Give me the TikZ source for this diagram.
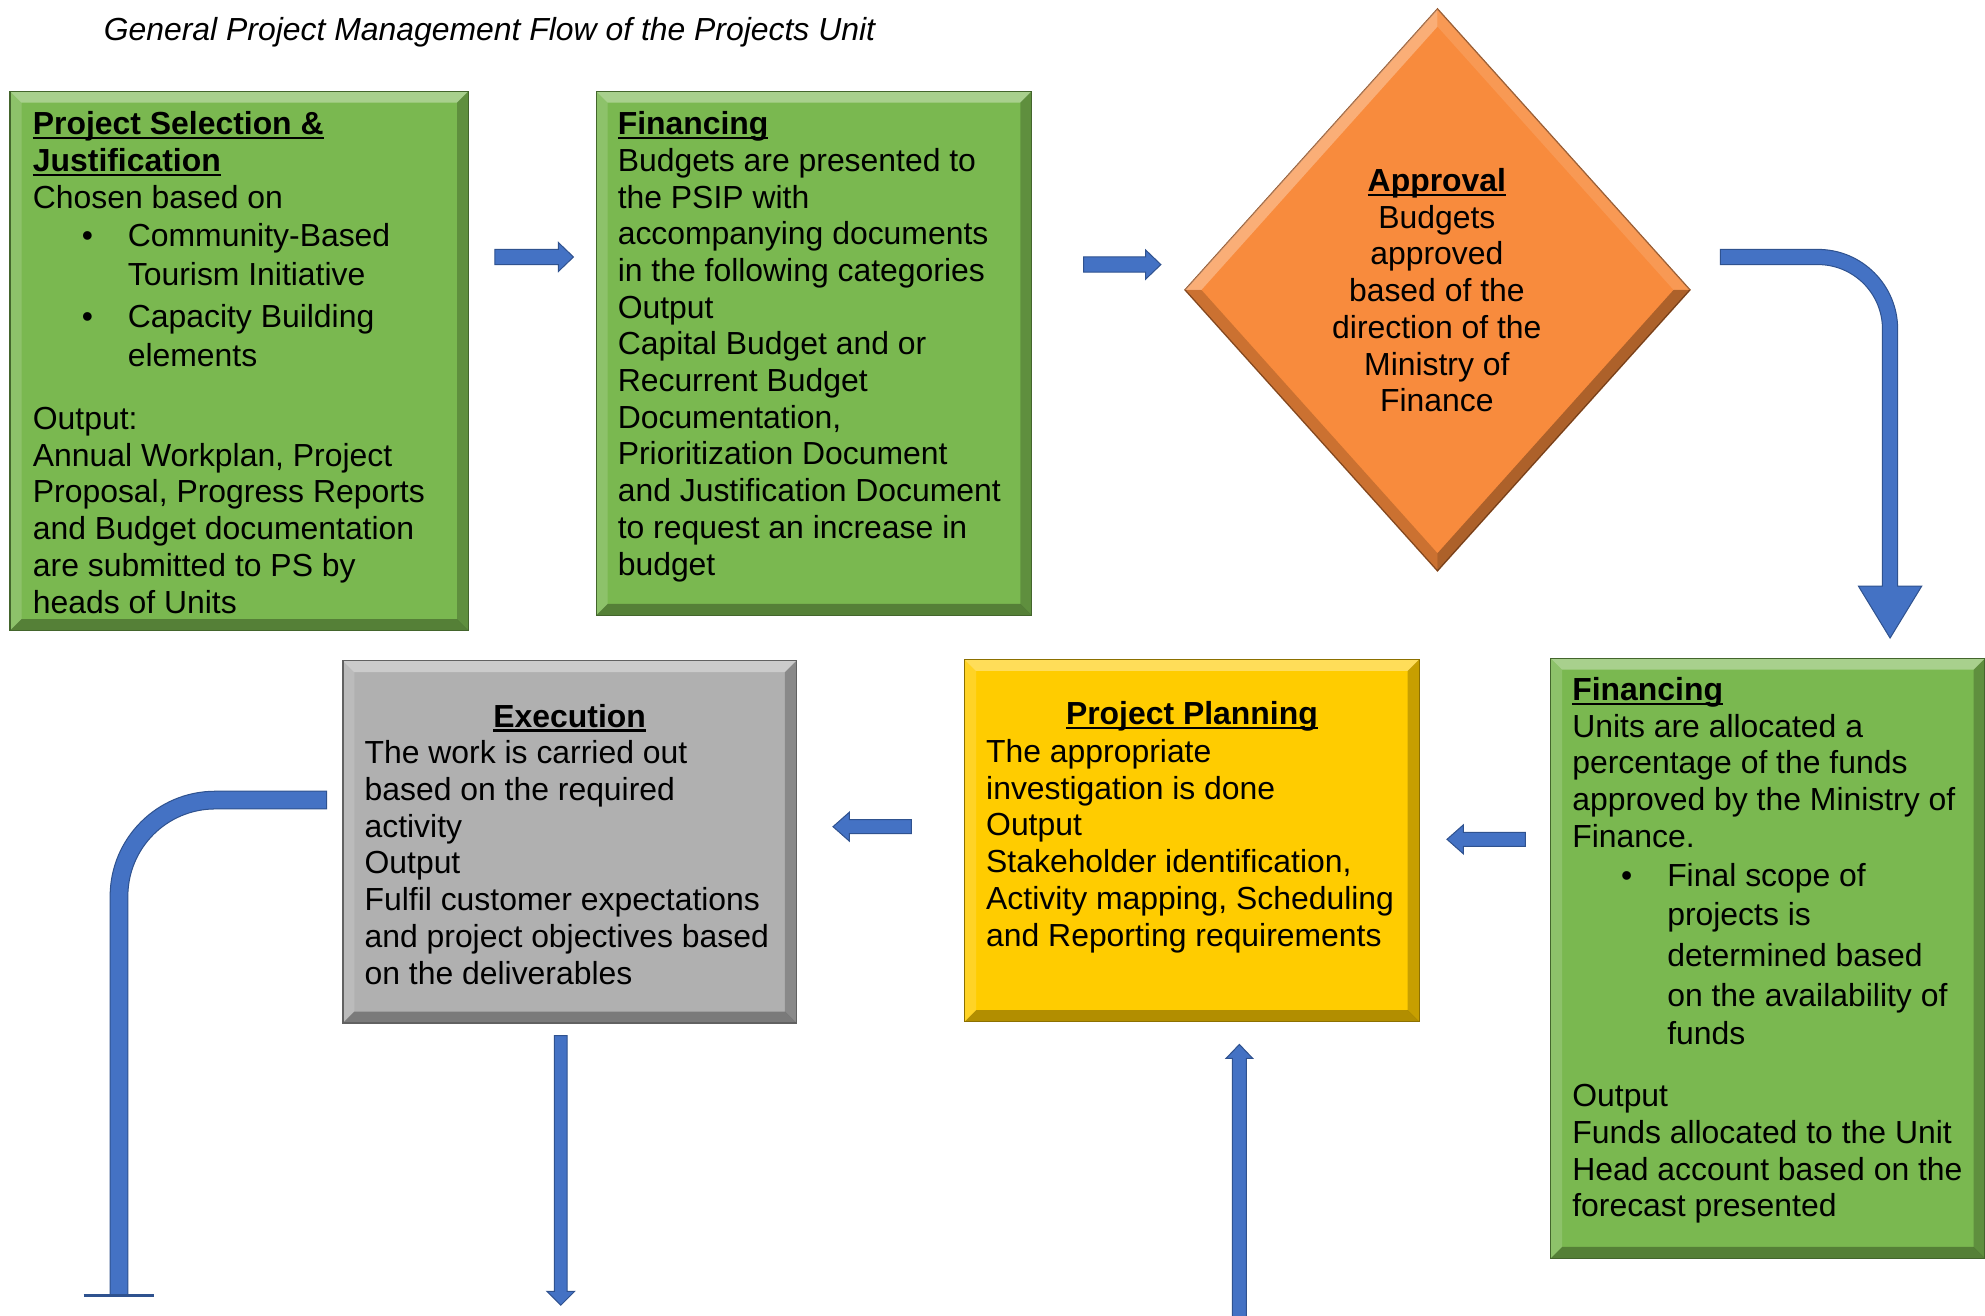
\documentclass[tikz,border=0pt]{standalone}
\usepackage{fontspec}
\setmainfont{Liberation Sans}
\usetikzlibrary{shapes.geometric}

\definecolor{boxgreen}{RGB}{122,184,80}
\definecolor{boxorange}{RGB}{248,139,61}
\definecolor{boxyellow}{RGB}{255,204,0}
\definecolor{boxgray}{RGB}{176,176,176}
\definecolor{arrowblue}{RGB}{68,114,196}
\definecolor{arrowedge}{RGB}{47,82,143}

\newcommand\bodysize{\fontsize{12.6}{14.5}\selectfont}
% bold heading with a Word-style underline
\newcommand\headl[1]{\setbox0\hbox{\bfseries #1}\rlap{\rule[-1.8pt]{\wd0}{0.9pt}}\box0}
% bullet item and its continuation indent
\newcommand\bitem{\makebox[37.5pt][l]{\hspace*{19.3pt}\textbullet}}
\newcommand\bcont{\hspace*{37.5pt}}

\tikzset{
  box/.style={rectangle, inner sep=0pt, outer sep=0pt, draw=#1!55!black, line width=0.5pt, fill=#1,
    path picture={
      \fill[white,opacity=.35] (path picture bounding box.north west) -- (path picture bounding box.north east)
        -- ([shift={(-9,-9)}]path picture bounding box.north east) -- ([shift={(9,-9)}]path picture bounding box.north west) -- cycle;
      \fill[white,opacity=.15] (path picture bounding box.north west) -- ([shift={(9,-9)}]path picture bounding box.north west)
        -- ([shift={(9,9)}]path picture bounding box.south west) -- (path picture bounding box.south west) -- cycle;
      \fill[black,opacity=.3] (path picture bounding box.south west) -- ([shift={(9,9)}]path picture bounding box.south west)
        -- ([shift={(-9,9)}]path picture bounding box.south east) -- (path picture bounding box.south east) -- cycle;
      \fill[black,opacity=.22] (path picture bounding box.south east) -- ([shift={(-9,9)}]path picture bounding box.south east)
        -- ([shift={(-9,-9)}]path picture bounding box.north east) -- (path picture bounding box.north east) -- cycle;
    }},
  txt/.style={inner sep=0pt, outer sep=0pt, font=\bodysize, align=left, anchor=north west, text=black},
  ctxt/.style={txt, align=center, anchor=north},
  arrowbody/.style={fill=arrowblue, draw=arrowedge, line width=0.4pt, line join=miter},
  pics/blockarrow/.style n args={4}{code={
    \filldraw[arrowbody] (0,-#2) -- ({#1-#4},-#2) -- ({#1-#4},-#3) -- (#1,0)
      -- ({#1-#4},#3) -- ({#1-#4},#2) -- (0,#2) -- cycle;
  }},
}

\begin{document}
\begin{tikzpicture}[x=0.5pt,y=0.5pt]
\useasboundingbox (0,0) rectangle (1568,-1039);

% heading
\node[txt, font=\bodysize\itshape] (title) at (82,-12)
  {\strut General Project Management Flow of the Projects Unit};

% boxes
\node[box=boxgreen, minimum width=181pt, minimum height=213pt] (select) at (189,-285) {};
\node[box=boxgreen, minimum width=172pt, minimum height=207pt] (finA) at (643,-279) {};
\node[diamond, inner sep=0pt, outer sep=0pt, minimum width=199.5pt, minimum height=222pt,
      fill=boxorange, draw=boxorange!60!black, line width=0.5pt] (approve) at (1135.5,-229) {};
\fill[white,opacity=.3] (approve.west) -- (approve.north) -- ([yshift=-7pt]approve.north) -- ([xshift=6.5pt]approve.west) -- cycle;
\fill[white,opacity=.12] (approve.north) -- (approve.east) -- ([xshift=-6.5pt]approve.east) -- ([yshift=-7pt]approve.north) -- cycle;
\fill[black,opacity=.3] (approve.east) -- (approve.south) -- ([yshift=7pt]approve.south) -- ([xshift=-6.5pt]approve.east) -- cycle;
\fill[black,opacity=.18] (approve.south) -- (approve.west) -- ([xshift=6.5pt]approve.west) -- ([yshift=7pt]approve.south) -- cycle;
\node[box=boxgreen, minimum width=171.5pt, minimum height=237pt] (finB) at (1396.5,-757) {};
\node[box=boxyellow, minimum width=179.5pt, minimum height=143pt] (plan) at (941.5,-664) {};
\node[box=boxgray, minimum width=179pt, minimum height=143pt] (exec) at (450,-665) {};

% box texts
\node[txt] (selectT) at (26,-86) {\strut\headl{Project Selection \&}\\
  \headl{Justification}\\
  Chosen based on\\[0.75pt]
  \bitem Community-Based\\[1pt]
  \bcont Tourism Initiative\\[2pt]
  \bitem Capacity Building\\[0.75pt]
  \bcont elements\\[10.5pt]
  Output:\\
  Annual Workplan, Project\\
  Proposal, Progress Reports\\
  and Budget documentation\\
  are submitted to PS by\\
  heads of Units};

\node[txt] (finAT) at (488,-86) {\strut\headl{Financing}\\
  Budgets are presented to\\
  the PSIP with\\
  accompanying documents\\
  in the following categories\\
  Output\\
  Capital Budget and or\\
  Recurrent Budget\\
  Documentation,\\
  Prioritization Document\\
  and Justification Document\\
  to request an increase in\\
  budget};

\node[ctxt] (approveT) at (1135,-131) {\strut\headl{Approval}\\
  Budgets\\
  approved\\
  based of the\\
  direction of the\\
  Ministry of\\
  Finance};

\node[txt] (finBT) at (1242,-533) {\strut\headl{Financing}\\
  Units are allocated a\\
  percentage of the funds\\
  approved by the Ministry of\\
  Finance.\\[1pt]
  \bitem Final scope of\\[1pt]
  \bcont projects is\\[1.5pt]
  \bcont determined based\\[1.5pt]
  \bcont on the availability of\\[0.5pt]
  \bcont funds\\[10pt]
  Output\\
  Funds allocated to the Unit\\
  Head account based on the\\
  forecast presented};

\node[ctxt] (planH) at (941.5,-552) {\strut\headl{Project Planning}};
\node[txt] (planT) at (779,-582) {\strut The appropriate\\
  investigation is done\\
  Output\\
  Stakeholder identification,\\
  Activity mapping, Scheduling\\
  and Reporting requirements};

\node[ctxt] (execH) at (450,-554) {\strut\headl{Execution}};
\node[txt] (execT) at (288,-583) {\strut The work is carried out\\
  based on the required\\
  activity\\
  Output\\
  Fulfil customer expectations\\
  and project objectives based\\
  on the deliverables};

% straight block arrows
\coordinate (a1) at (391,-203);
\coordinate (a2) at (856,-209);
\coordinate (a4) at (1205,-663);
\coordinate (a5) at (720,-653);
\coordinate (a7) at (443,-818);
\coordinate (a8) at (979,-1045);
\pic at (a1) {blockarrow={62}{6}{11.5}{12}};
\pic at (a2) {blockarrow={61}{6}{11.5}{12}};
\pic[rotate=180] at (a4) {blockarrow={62}{5.5}{11.5}{13}};
\pic[rotate=180] at (a5) {blockarrow={62}{5.5}{11.5}{13}};
\pic[rotate=-90] at (a7) {blockarrow={213}{5}{11}{11}};
\pic[rotate=90] at (a8) {blockarrow={220}{5.5}{10.5}{11}};

% bent arrow from the approval down to the second financing step
\coordinate (a3s) at (1359,-203);
\coordinate (a3e) at (1493,-504);
\filldraw[arrowbody] ([yshift=3pt]a3s) -- (1436,-197) arc[start angle=90, end angle=0, radius=63]
  -- (1499,-463) -- (1518,-463) -- (a3e) -- (1468,-463) -- (1487,-463) -- (1487,-260)
  arc[start angle=0, end angle=90, radius=51] -- ([yshift=-3pt]a3s) -- cycle;

% bent connector leaving the execution step
\coordinate (a6s) at (258,-632);
\coordinate (a6e) at (94,-1023);
\filldraw[arrowbody] ([yshift=3.5pt]a6s) -- (170,-625) arc[start angle=90, end angle=180, radius=83]
  -- (87,-1023) -- (101,-1023) -- (101,-708) arc[start angle=180, end angle=90, radius=69]
  -- ([yshift=-3.5pt]a6s) -- cycle;
\draw[arrowedge, line width=1.2pt] ([xshift=-14pt]a6e) -- ([xshift=14pt]a6e);
\end{tikzpicture}
\end{document}
